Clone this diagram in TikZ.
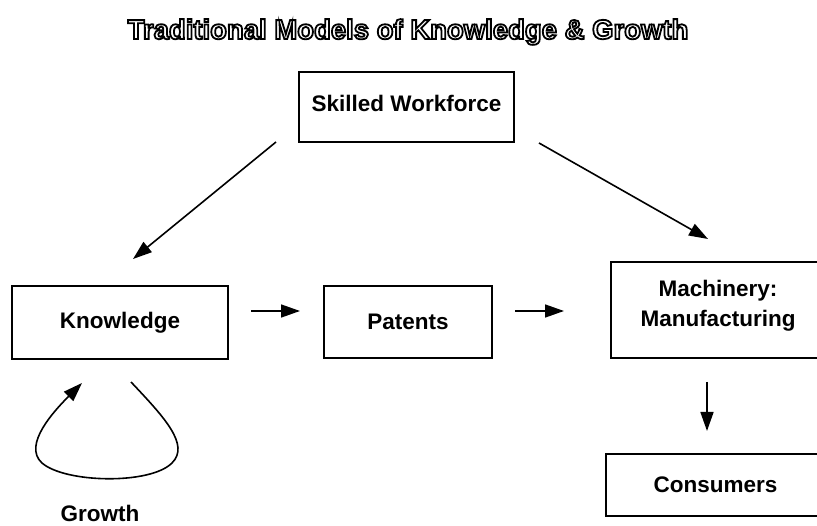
\documentclass[tikz,border=0pt]{standalone}
\usepackage{fontspec}
\setmainfont{Liberation Sans}
\usetikzlibrary{arrows.meta}
\newcommand{\outlinetext}[1]{{\color{white}\special{pdf:literal direct 0 G 1.8 w 2 Tr}#1\special{pdf:literal direct 0 Tr}}}
\begin{document}
\begin{tikzpicture}[x=1pt,y=-1pt,
  box/.style={draw,line width=1.7pt,inner sep=0pt,font=\bfseries\fontsize{22.5}{30}\selectfont,align=center},
  arr/.style={line width=1.6pt,-{Triangle[length=19pt,width=13pt]}},
  lbl/.style={font=\bfseries\fontsize{22.5}{28}\selectfont}]
\useasboundingbox (0,0) rectangle (817,526);
\node[font=\bfseries\fontsize{27.5}{32}\selectfont] (title) at (408,32) {\outlinetext{Traditional Models of Knowledge \& Growth}};
\node[box,minimum width=215pt,minimum height=70pt,text depth=8pt] (sw) at (406.5,107) {Skilled Workforce};
\node[box,minimum width=216pt,minimum height=73pt] (kn) at (120,322.5) {Knowledge};
\node[box,minimum width=168pt,minimum height=72pt] (pt) at (408,322) {Patents};
\node[box,minimum width=214pt,minimum height=96pt,text depth=14pt] (mc) at (718,310) {Machinery:\\Manufacturing};
\node[box,minimum width=219pt,minimum height=62pt] (cs) at (715.5,485) {Consumers};
\node[lbl] (gr) at (100,513) {Growth};
\coordinate (swL) at (276,142);
\coordinate (knT) at (133,259);
\coordinate (swR) at (539,143);
\coordinate (mcT) at (708,239);
\coordinate (knR) at (251,311);
\coordinate (ptL) at (300,311);
\coordinate (ptR) at (515,311);
\coordinate (mcL) at (564,311);
\coordinate (mcB) at (707,382);
\coordinate (csT) at (707,431);
\coordinate (loopA) at (131,382);
\coordinate (loopB) at (82,383);
\draw[arr] (swL) -- (knT);
\draw[arr] (swR) -- (mcT);
\draw[arr] (knR) -- (ptL);
\draw[arr] (ptR) -- (mcL);
\draw[arr] (mcB) -- (csT);
\draw[arr] (loopA) .. controls (165,418) and (190,445) .. (172,463) .. controls (150,485) and (65,483) .. (42,463) .. controls (22,445) and (55,410) .. (loopB);
\end{tikzpicture}
\end{document}
